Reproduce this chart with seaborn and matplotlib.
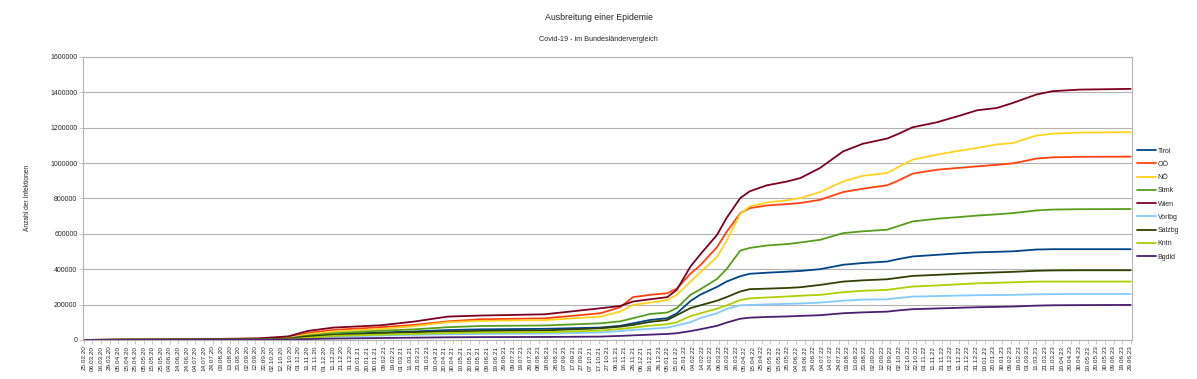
import matplotlib
matplotlib.use("Agg")
import matplotlib.pyplot as plt
import matplotlib.ticker as mticker
import pandas as pd
import seaborn as sns

# sample dates
dates = ["2020-02-25", "2020-04-15", "2020-07-01", "2020-09-15", "2020-10-20",
         "2020-11-12", "2020-12-12", "2021-02-05", "2021-03-16", "2021-04-24",
         "2021-06-01", "2021-08-15",
         "2021-10-19", "2021-11-11", "2021-11-26", "2021-12-16", "2022-01-05",
         "2022-01-16", "2022-02-01", "2022-02-12", "2022-03-04", "2022-03-15",
         "2022-03-31", "2022-04-11", "2022-05-01", "2022-05-25", "2022-06-09",
         "2022-07-02", "2022-07-29", "2022-08-21", "2022-09-18", "2022-09-29",
         "2022-10-18", "2022-11-15", "2022-12-12", "2023-01-01", "2023-01-24",
         "2023-02-12", "2023-03-11", "2023-03-30", "2023-05-01", "2023-06-29"]

# cumulative infections in thousands
tirol = [0, 3, 4, 6, 10, 22, 32, 42, 48, 56, 60, 63,
         70, 80, 94, 113, 123, 150, 220, 255, 300, 330, 360, 374, 380, 386, 390,
         400, 425, 435, 443, 455, 472, 481, 490, 495, 498, 501, 511, 513, 513, 513]
ooe = [0, 2, 3, 7, 14, 40, 57, 72, 85, 105, 117, 122,
       151, 185, 242, 255, 264, 290, 375, 420, 525, 610, 717, 745, 760, 768, 774,
       792, 836, 855, 874, 896, 940, 962, 973, 981, 990, 998, 1025, 1032, 1035, 1036]
noe = [0, 2, 3, 6, 12, 32, 47, 62, 78, 100, 108, 112,
       132, 160, 198, 211, 226, 255, 330, 380, 470, 560, 713, 755, 777, 790, 802,
       836, 896, 928, 943, 972, 1019, 1047, 1070, 1085, 1105, 1113, 1155, 1166, 1172, 1174]
stmk = [0, 1, 2, 4, 9, 25, 38, 52, 60, 72, 79, 82,
        94, 105, 123, 147, 155, 180, 255, 285, 345, 400, 505, 520, 534, 542, 551,
        566, 604, 614, 623, 640, 670, 685, 695, 703, 710, 717, 732, 737, 739, 740]
wien = [0, 2, 4, 9, 20, 51, 70, 83, 104, 132, 138, 145,
        179, 192, 217, 230, 242, 283, 415, 481, 594, 689, 802, 840, 874, 896, 915,
        972, 1066, 1109, 1138, 1160, 1202, 1230, 1268, 1298, 1311, 1340, 1387, 1406, 1415, 1419]
vbg = [0, 1, 1, 1.5, 4, 13, 19, 25, 29, 32, 34, 36,
       42, 50, 57, 63, 70, 82, 100, 123, 151, 175, 196, 198, 201, 204, 206,
       211, 222, 228, 230, 236, 245, 248, 251, 253, 254, 255, 258, 259, 260, 260]
sbg = [0, 1, 2, 3, 7, 20, 28, 38, 44, 48, 51, 54,
       66, 75, 85, 102, 113, 140, 180, 195, 222, 242, 274, 287, 290, 294, 298,
       311, 330, 337, 343, 350, 362, 368, 374, 378, 382, 385, 391, 393, 394, 394]
ktn = [0, 0.5, 1, 1.5, 3, 12, 23, 30, 34, 39, 42, 44,
       53, 62, 70, 81, 89, 100, 135, 150, 177, 195, 226, 235, 240, 246, 250,
       255, 270, 278, 283, 290, 302, 308, 315, 320, 323, 326, 330, 330, 330, 330]
bgld = [0, 0.3, 0.5, 1, 2, 5, 8, 11, 13, 15, 16, 17,
        19, 23, 26, 30, 34, 38, 50, 60, 80, 98, 120, 126, 130, 133, 136,
        140, 151, 156, 160, 166, 174, 178, 182, 185, 187, 189, 194, 196, 197, 198]

laender = ["Tirol", "OÖ", "NÖ", "Stmk", "Wien", "Vorlbg", "Salzbg", "Kntn", "Bgdld"]
series = [tirol, ooe, noe, stmk, wien, vbg, sbg, ktn, bgld]
colors = ["#004586", "#ff420e", "#ffd320", "#579d1c", "#7e0021",
          "#83caff", "#314004", "#aecf00", "#4b1f6f"]

start = pd.Timestamp("2020-02-25")
end = pd.Timestamp("2023-06-29")

rows = []
for name, vals in zip(laender, series):
    for d, v in zip(dates, vals):
        rows.append({"day": (pd.Timestamp(d) - start).days, "wert": v * 1000, "land": name})
df = pd.DataFrame(rows)

sns.set_theme(style="white")
plt.rcParams["font.family"] = ["Liberation Sans", "DejaVu Sans"]

fig = plt.figure(figsize=(11.97, 3.79), dpi=100)
ax = fig.add_axes([0.0693, 0.103, 0.876, 0.747])

sns.lineplot(data=df, x="day", y="wert", hue="land", hue_order=laender,
             palette=dict(zip(laender, colors)), linewidth=1.3, ax=ax)

ndays = (end - start).days
ax.set_xlim(-1, ndays + 1)
ax.set_ylim(0, 1600000)
ax.yaxis.set_major_locator(mticker.MultipleLocator(200000))
ax.yaxis.set_major_formatter(mticker.FuncFormatter(lambda v, p: f"{int(v)}"))
ax.grid(axis="y", color="#b3b3b3", linewidth=0.8)
ax.set_axisbelow(True)

tick_dates = pd.date_range(start, end, freq="10D")
ax.set_xticks([(t - start).days for t in tick_dates])
ax.set_xticklabels(tick_dates.strftime("%d.%m.%y"), rotation=90, fontsize=4.6)
ax.xaxis.set_minor_locator(mticker.MultipleLocator(1))
ax.tick_params(axis="x", which="major", length=3, width=0.5, color="#b3b3b3", pad=1)
ax.tick_params(axis="x", which="minor", length=2, width=0.3, color="#b3b3b3")
ax.tick_params(axis="y", length=3, width=0.5, color="#b3b3b3", labelsize=5, pad=1)
ax.tick_params(bottom=True, left=True)

for s in ax.spines.values():
    s.set_color("#b3b3b3")
    s.set_linewidth(0.8)

ax.set_xlabel("")
ax.set_ylabel("Anzahl der Infektionen", fontsize=4.8, labelpad=14)

fig.text(0.5, 0.955, "Ausbreitung einer Epidemie", ha="center", va="center", fontsize=6.3)
fig.text(0.5, 0.895, "Covid-19 - im Bundesländervergleich", ha="center", va="center", fontsize=5.2)

handles, labels = ax.get_legend_handles_labels()
ax.legend(handles, labels, loc="center left", bbox_to_anchor=(1.003, 0.48),
          frameon=False, fontsize=5, handlelength=2.6, labelspacing=0.9,
          handletextpad=0.3, borderaxespad=0)

fig.savefig("out.png", dpi=100)
